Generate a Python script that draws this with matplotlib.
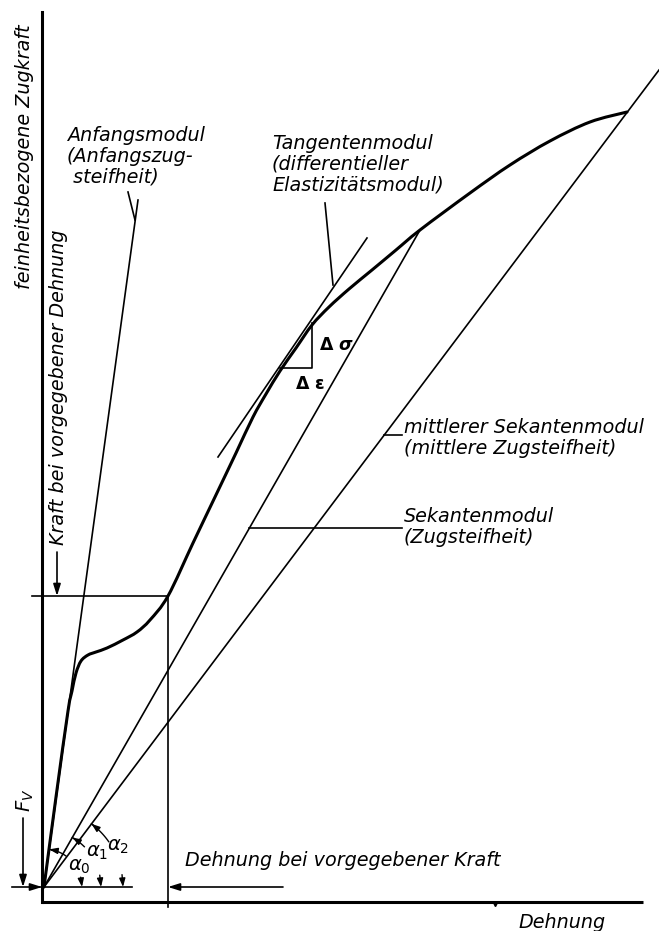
import numpy as np
import matplotlib.pyplot as plt
from matplotlib.path import Path
from matplotlib.patches import PathPatch

# force/strain diagram, units: strain (x) and unit-related force (y), arbitrary
curve_strain = [0, 12, 24, 28, 32, 37, 44, 52, 63, 79, 93, 106, 124, 149, 171, 192, 209, 222,
                236, 252, 268, 285, 305, 328, 352, 376, 426, 466, 506, 546, 583]
curve_force = [0, 90, 176, 196, 214, 226, 232, 235, 239, 247, 255, 267, 291, 344, 390, 434, 470, 493,
               516, 539, 562, 580, 598, 617, 637, 657, 694, 722, 746, 765, 775]

initial_end = (94, 687)          # Anfangsmodul
tangent_pts = [(174, 430), (323, 649)]
secant_end = (376, 657)          # Sekantenmodul
mean_secant_end = (615, 817)     # mittlerer Sekantenmodul (through curve end)
given_point = (124, 291)         # Kraft / Dehnung bei vorgegebener ...
triangle = [(236, 519), (268, 519), (268, 564)]

# angle arcs: radius, line angle, end of upper arc part, start of lower arc part (deg)
arcs = [(38, 82.2, 55, 15), (57, 60.2, 45, 12), (79, 53.1, 35, 9)]
arc_labels = [r'$\alpha_0$', r'$\alpha_1$', r'$\alpha_2$']
arc_label_pos = [(35, 21), (53, 34), (74, 41)]


def smooth_path(xs, ys):
    # Catmull-Rom through the points, drawn as cubic Bezier segments
    p = np.column_stack([xs, ys]).astype(float)
    p = np.vstack([p[0], p, p[-1]])
    verts = [p[1]]
    codes = [Path.MOVETO]
    for i in range(1, len(p) - 2):
        c1 = p[i] + (p[i + 1] - p[i - 1]) / 6
        c2 = p[i + 1] - (p[i + 2] - p[i]) / 6
        verts += [c1, c2, p[i + 1]]
        codes += [Path.CURVE4] * 3
    return Path(verts, codes)


fig = plt.figure(figsize=(6.59, 9.31), dpi=100)
ax = fig.add_axes([0, 0, 1, 1])
ax.set_xlim(-44, 615)
ax.set_ylim(-44, 887)
ax.axis('off')

thick = 2.2
thin = 1.2
k = 'black'
fs = 13.8
font = dict(style='italic', family='DejaVu Sans', fontsize=fs, color=k)

# axes
ax.plot([-2, -2], [-15, 875], color=k, lw=thick)
ax.plot([-2, 599], [-15, -15], color=k, lw=thick, solid_capstyle='butt')
ax.plot([451], [-17], marker='v', ms=3, color=k)

# curve
ax.add_patch(PathPatch(smooth_path(curve_strain, curve_force), fill=False, ec=k, lw=thick,
                       joinstyle='round', capstyle='round'))

# modulus lines
ax.plot([0, initial_end[0]], [0, initial_end[1]], color=k, lw=thin)
ax.plot([p[0] for p in tangent_pts], [p[1] for p in tangent_pts], color=k, lw=thin)
ax.plot([0, secant_end[0]], [0, secant_end[1]], color=k, lw=thin)
ax.plot([0, mean_secant_end[0]], [0, mean_secant_end[1]], color=k, lw=thin)

# triangle delta sigma / delta epsilon
tx = [p[0] for p in triangle]
ty = [p[1] for p in triangle]
ax.plot(tx, ty, color=k, lw=thin)
ax.text(tx[1] + 7, (ty[1] + ty[2]) / 2, r'$\mathbf{\Delta}\ \boldsymbol{\sigma}$', fontsize=12.5, va='center', ha='left')
ax.text(266, ty[0] - 16, r'$\mathbf{\Delta}\ \boldsymbol{\varepsilon}$', fontsize=12.5, va='center', ha='center')

# given force / strain lines
gx, gy = given_point
ax.plot([-12, gx], [gy, gy], color=k, lw=thin)
ax.plot([gx, gx], [gy, -20], color=k, lw=thin)
ax.plot([-32, 88], [0, 0], color=k, lw=thin)

arr = dict(arrowstyle='-|>,head_length=0.7,head_width=0.22', color=k, lw=thin, shrinkA=0, shrinkB=0)
ax.annotate('', xy=(gx, 0), xytext=(239, 0), arrowprops=arr)
ax.annotate('', xy=(13, gy), xytext=(13, 335), arrowprops=arr)
ax.annotate('', xy=(-21, 0), xytext=(-21, 69), arrowprops=arr)
ax.annotate('', xy=(-2, 0), xytext=(-14, 0), arrowprops=arr)

# angle arcs
arr_s = dict(arrowstyle='-|>,head_length=0.5,head_width=0.18', color=k, lw=1.0, shrinkA=0, shrinkB=0)
for (r, a_top, a_mid, a_low), lab, pos in zip(arcs, arc_labels, arc_label_pos):
    t = np.radians(np.linspace(a_mid, a_top, 20))
    ax.plot(r * np.cos(t), r * np.sin(t), color=k, lw=1.0)
    ax.annotate('', xy=(r * np.cos(t[-1]), r * np.sin(t[-1])),
                xytext=(r * np.cos(t[-4]), r * np.sin(t[-4])), arrowprops=arr_s)
    t2 = np.radians(np.linspace(a_low, 0, 10))
    ax.annotate('', xy=(r * np.cos(t2[-1]), r * np.sin(t2[-1])),
                xytext=(r * np.cos(t2[0]), r * np.sin(t2[0])), arrowprops=arr_s)
    ax.text(pos[0], pos[1], lab, fontsize=14, ha='center', va='center')

# leaders
ax.plot([84, 91], [695, 667], color=k, lw=thin)
ax.plot([281, 289], [684, 602], color=k, lw=thin)
ax.plot([340, 358], [452, 452], color=k, lw=thin)
ax.plot([205, 358], [359, 359], color=k, lw=thin)

# texts
ls = 1.12
ax.text(-19, 730, 'feinheitsbezogene Zugkraft', rotation=90, ha='center', va='center', **font)
ax.text(14, 500, 'Kraft bei vorgegebener Dehnung', rotation=90, ha='center', va='center', **font)
ax.text(-19, 87, r'$F_V$', rotation=90, ha='center', va='center', fontsize=14)
ax.text(23, 761, 'Anfangsmodul\n(Anfangszug-\n steifheit)', ha='left', va='top', linespacing=ls, **font)
ax.text(228, 753, 'Tangentenmodul\n(differentieller\nElastizitätsmodul)', ha='left', va='top', linespacing=ls, **font)
ax.text(360, 469, 'mittlerer Sekantenmodul\n(mittlere Zugsteifheit)', ha='left', va='top', linespacing=ls, **font)
ax.text(360, 380, 'Sekantenmodul\n(Zugsteifheit)', ha='left', va='top', linespacing=ls, **font)
ax.text(141, 27, 'Dehnung bei vorgegebener Kraft', ha='left', va='center', **font)
ax.text(474, -35, 'Dehnung', ha='left', va='center', **font)

fig.savefig('out.png', dpi=100)
